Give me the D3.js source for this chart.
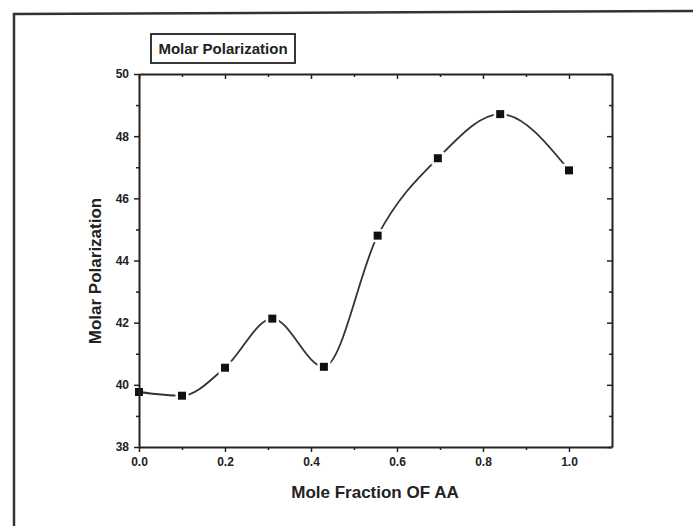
<!DOCTYPE html>
<html>
<head>
<meta charset="utf-8">
<script src="https://cdn.jsdelivr.net/npm/d3@7"></script>
<style>
  body { margin: 0; background: #fff; }
  svg { display: block; font-family: "Liberation Sans", Arial, sans-serif; }
  .axis path, .axis line { stroke: #222; }
  .axis text { font-weight: bold; fill: #222; }
</style>
</head>
<body>
<svg width="693" height="526"></svg>
<script>
// data
var moleFraction = [0.0, 0.1, 0.2, 0.31, 0.43, 0.555, 0.695, 0.84, 1.0];
var molarPol = [39.77, 39.65, 40.55, 42.13, 40.58, 44.8, 47.29, 48.71, 46.9];
var xMajor = [0.0, 0.2, 0.4, 0.6, 0.8, 1.0];
var xMinor = [0.1, 0.3, 0.5, 0.7, 0.9];
var yMajor = [38, 40, 42, 44, 46, 48, 50];
var yMinor = [39, 41, 43, 45, 47, 49];

var svg = d3.select("svg");
// plot box (note: "top" is taken by window.top)
var plotL = 139, plotR = 612, plotT = 74, plotB = 447;

var x = d3.scaleLinear().domain([0, 1.1]).range([plotL, plotR]);
var y = d3.scaleLinear().domain([38, 50]).range([plotB, plotT]);

svg.append("rect").attr("width", 693).attr("height", 526).attr("fill", "#fff");

// scanned page frame
svg.append("path")
    .attr("d", "M14,526 L14,14 L693,11")
    .attr("fill", "none")
    .attr("stroke", "#333")
    .attr("stroke-width", 2.5);

// title box
svg.append("rect")
    .attr("x", 151).attr("y", 34).attr("width", 144).attr("height", 29)
    .attr("fill", "#fff").attr("stroke", "#222").attr("stroke-width", 1.8);
svg.append("text")
    .attr("x", 223).attr("y", 54)
    .attr("text-anchor", "middle")
    .attr("font-size", 15).attr("font-weight", "bold").attr("fill", "#222")
    .text("Molar Polarization");

// smooth curve through points
var pts = moleFraction.map(function (d, i) { return [d, molarPol[i]]; });
var line = d3.line()
    .x(function (d) { return x(d[0]); })
    .y(function (d) { return y(d[1]); })
    .curve(d3.curveMonotoneX);

svg.append("path")
    .datum(pts)
    .attr("d", line)
    .attr("fill", "none")
    .attr("stroke", "#333")
    .attr("stroke-width", 1.8);

// square markers with a white halo (gap in the line)
svg.selectAll(".pt")
    .data(pts)
    .enter().append("rect")
    .attr("class", "pt")
    .attr("x", function (d) { return x(d[0]) - 4; })
    .attr("y", function (d) { return y(d[1]) - 4; })
    .attr("width", 8).attr("height", 8)
    .attr("fill", "#111")
    .attr("stroke", "#fff")
    .attr("stroke-width", function (d, i) { return i === 0 ? 0 : 5; })
    .attr("paint-order", "stroke");

// axes - major + minor ticks (drawn over the curve)
function addAxis(axisFn, scale, major, minor, tx, ty, labels, fmt) {
    var gMin = svg.append("g").attr("class", "axis")
        .attr("transform", "translate(" + tx + "," + ty + ")")
        .call(axisFn(scale).tickValues(minor).tickSize(3).tickFormat(""));
    gMin.select(".domain").remove();
    var g = svg.append("g").attr("class", "axis")
        .attr("transform", "translate(" + tx + "," + ty + ")")
        .call(axisFn(scale).tickValues(major).tickSizeInner(5).tickSizeOuter(0)
            .tickPadding(5).tickFormat(labels ? fmt : ""));
    g.select(".domain").attr("stroke-width", 2);
    g.selectAll(".tick line").attr("stroke-width", 1.5);
    gMin.selectAll(".tick line").attr("stroke-width", 1.5);
    g.selectAll("text").attr("font-size", 12);
    return g;
}

addAxis(d3.axisBottom, x, xMajor, xMinor, 0, plotB, true, d3.format(".1f"));
addAxis(d3.axisLeft, y, yMajor, yMinor, plotL, 0, true, d3.format("d"));
addAxis(d3.axisBottom, x, xMajor, xMinor, 0, plotT, false);
addAxis(d3.axisLeft, y, yMajor, yMinor, plotR, 0, false);

// axis titles
svg.append("text")
    .attr("x", 375).attr("y", 498)
    .attr("text-anchor", "middle")
    .attr("font-size", 17).attr("font-weight", "bold").attr("fill", "#222")
    .text("Mole Fraction OF AA");
svg.append("text")
    .attr("transform", "translate(101,271) rotate(-90)")
    .attr("text-anchor", "middle")
    .attr("font-size", 17).attr("font-weight", "bold").attr("fill", "#222")
    .text("Molar Polarization");
</script>
</body>
</html>
